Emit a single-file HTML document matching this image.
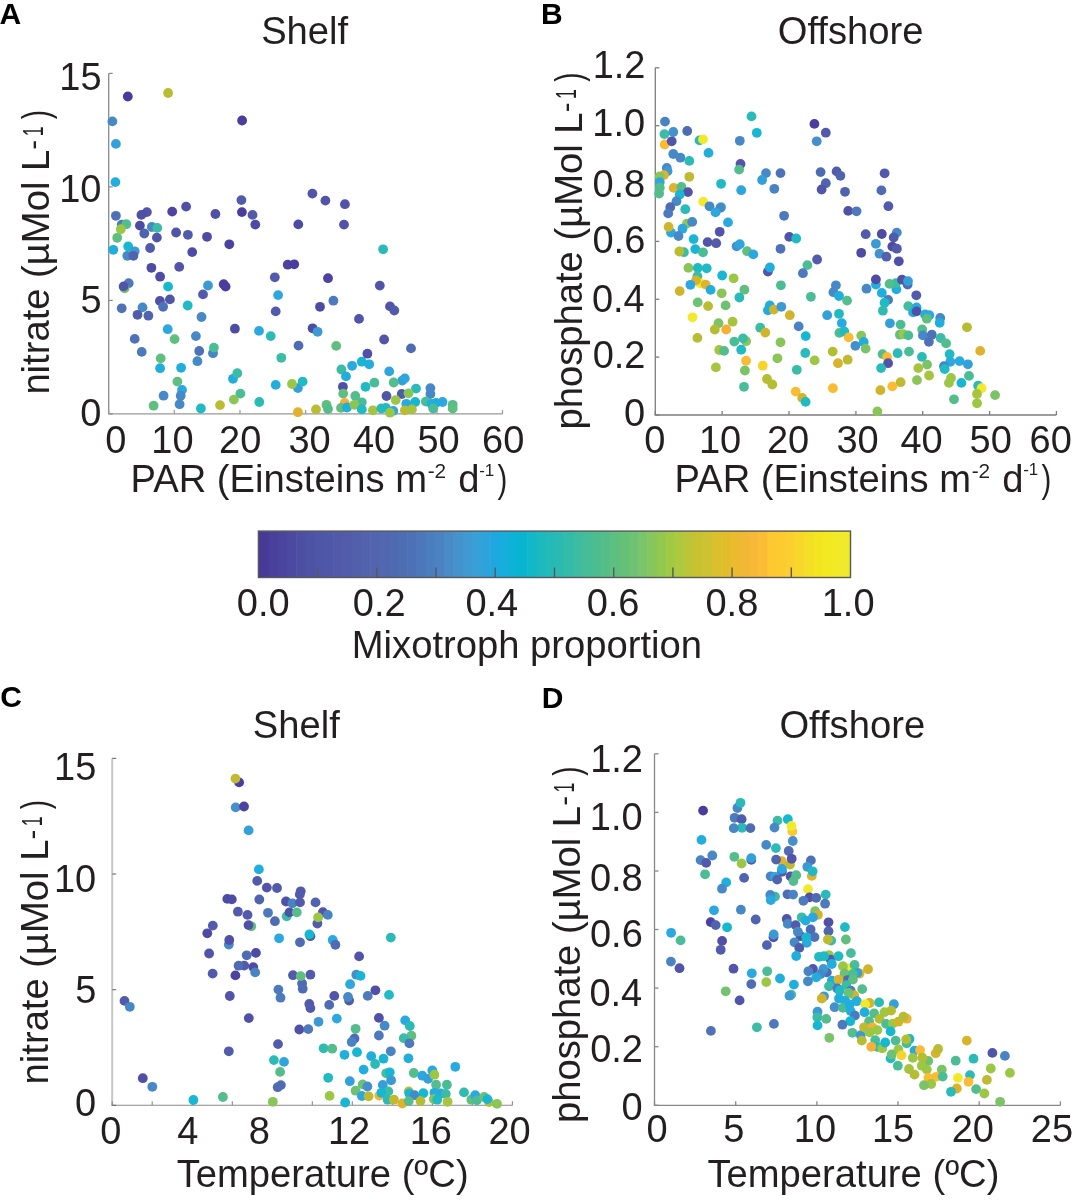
<!DOCTYPE html><html><head><meta charset="utf-8"><style>html,body{margin:0;padding:0;background:#fff;width:1078px;height:1201px;overflow:hidden}svg{display:block;will-change:transform} text{font-family:"Liberation Sans",sans-serif}</style></head><body><svg width="1078" height="1201" viewBox="0 0 1078 1201">
<rect width="1078" height="1201" fill="#fff"/>
<path d="M108.7,73.4 V413.95" fill="none" stroke="#8a8a8a" stroke-width="1.3"/>
<path d="M108.05,413.95 H502.5" fill="none" stroke="#9a9898" stroke-width="1.2"/>
<line x1="108.7" y1="413.95" x2="108.7" y2="409.95" stroke="#9a9898" stroke-width="1.2"/>
<line x1="174.3" y1="413.95" x2="174.3" y2="409.95" stroke="#9a9898" stroke-width="1.2"/>
<line x1="240.0" y1="413.95" x2="240.0" y2="409.95" stroke="#9a9898" stroke-width="1.2"/>
<line x1="305.6" y1="413.95" x2="305.6" y2="409.95" stroke="#9a9898" stroke-width="1.2"/>
<line x1="371.2" y1="413.95" x2="371.2" y2="409.95" stroke="#9a9898" stroke-width="1.2"/>
<line x1="436.9" y1="413.95" x2="436.9" y2="409.95" stroke="#9a9898" stroke-width="1.2"/>
<line x1="502.5" y1="413.95" x2="502.5" y2="409.95" stroke="#9a9898" stroke-width="1.2"/>
<line x1="108.7" y1="413.9" x2="112.7" y2="413.9" stroke="#8a8a8a" stroke-width="1.2"/>
<line x1="108.7" y1="300.4" x2="112.7" y2="300.4" stroke="#8a8a8a" stroke-width="1.2"/>
<line x1="108.7" y1="186.9" x2="112.7" y2="186.9" stroke="#8a8a8a" stroke-width="1.2"/>
<line x1="108.7" y1="73.4" x2="112.7" y2="73.4" stroke="#8a8a8a" stroke-width="1.2"/>
<path d="M655.3,67.8 V415.0" fill="none" stroke="#7e7c7c" stroke-width="1.3"/>
<path d="M654.65,415.0 H1056.4" fill="none" stroke="#7e7c7c" stroke-width="1.3"/>
<line x1="655.3" y1="415.0" x2="655.3" y2="411.0" stroke="#7e7c7c" stroke-width="1.3"/>
<line x1="722.1" y1="415.0" x2="722.1" y2="411.0" stroke="#7e7c7c" stroke-width="1.3"/>
<line x1="789.0" y1="415.0" x2="789.0" y2="411.0" stroke="#7e7c7c" stroke-width="1.3"/>
<line x1="855.9" y1="415.0" x2="855.9" y2="411.0" stroke="#7e7c7c" stroke-width="1.3"/>
<line x1="922.7" y1="415.0" x2="922.7" y2="411.0" stroke="#7e7c7c" stroke-width="1.3"/>
<line x1="989.6" y1="415.0" x2="989.6" y2="411.0" stroke="#7e7c7c" stroke-width="1.3"/>
<line x1="1056.4" y1="415.0" x2="1056.4" y2="411.0" stroke="#7e7c7c" stroke-width="1.3"/>
<line x1="655.3" y1="415.0" x2="659.3" y2="415.0" stroke="#7e7c7c" stroke-width="1.3"/>
<line x1="655.3" y1="357.1" x2="659.3" y2="357.1" stroke="#7e7c7c" stroke-width="1.3"/>
<line x1="655.3" y1="299.3" x2="659.3" y2="299.3" stroke="#7e7c7c" stroke-width="1.3"/>
<line x1="655.3" y1="241.4" x2="659.3" y2="241.4" stroke="#7e7c7c" stroke-width="1.3"/>
<line x1="655.3" y1="183.5" x2="659.3" y2="183.5" stroke="#7e7c7c" stroke-width="1.3"/>
<line x1="655.3" y1="125.7" x2="659.3" y2="125.7" stroke="#7e7c7c" stroke-width="1.3"/>
<line x1="655.3" y1="67.8" x2="659.3" y2="67.8" stroke="#7e7c7c" stroke-width="1.3"/>
<path d="M112.2,758.4 V1105.3" fill="none" stroke="#c6c6c6" stroke-width="2.0"/>
<path d="M111.2,1105.3 H512.4" fill="none" stroke="#8a8a8a" stroke-width="1.1"/>
<line x1="112.2" y1="1105.3" x2="112.2" y2="1101.3" stroke="#8a8a8a" stroke-width="1.1"/>
<line x1="152.2" y1="1105.3" x2="152.2" y2="1101.3" stroke="#8a8a8a" stroke-width="1.1"/>
<line x1="192.2" y1="1105.3" x2="192.2" y2="1101.3" stroke="#8a8a8a" stroke-width="1.1"/>
<line x1="232.3" y1="1105.3" x2="232.3" y2="1101.3" stroke="#8a8a8a" stroke-width="1.1"/>
<line x1="272.3" y1="1105.3" x2="272.3" y2="1101.3" stroke="#8a8a8a" stroke-width="1.1"/>
<line x1="312.3" y1="1105.3" x2="312.3" y2="1101.3" stroke="#8a8a8a" stroke-width="1.1"/>
<line x1="352.3" y1="1105.3" x2="352.3" y2="1101.3" stroke="#8a8a8a" stroke-width="1.1"/>
<line x1="392.3" y1="1105.3" x2="392.3" y2="1101.3" stroke="#8a8a8a" stroke-width="1.1"/>
<line x1="432.4" y1="1105.3" x2="432.4" y2="1101.3" stroke="#8a8a8a" stroke-width="1.1"/>
<line x1="472.4" y1="1105.3" x2="472.4" y2="1101.3" stroke="#8a8a8a" stroke-width="1.1"/>
<line x1="512.4" y1="1105.3" x2="512.4" y2="1101.3" stroke="#8a8a8a" stroke-width="1.1"/>
<line x1="112.2" y1="1105.3" x2="116.2" y2="1105.3" stroke="#6e6e6e" stroke-width="1.1"/>
<line x1="112.2" y1="989.7" x2="116.2" y2="989.7" stroke="#6e6e6e" stroke-width="1.1"/>
<line x1="112.2" y1="874.0" x2="116.2" y2="874.0" stroke="#6e6e6e" stroke-width="1.1"/>
<line x1="112.2" y1="758.4" x2="116.2" y2="758.4" stroke="#6e6e6e" stroke-width="1.1"/>
<path d="M654.5,753.8 V1105.3" fill="none" stroke="#888888" stroke-width="1.3"/>
<path d="M653.85,1105.3 H1060.4" fill="none" stroke="#888888" stroke-width="1.3"/>
<line x1="654.5" y1="1105.3" x2="654.5" y2="1101.3" stroke="#888888" stroke-width="1.3"/>
<line x1="735.7" y1="1105.3" x2="735.7" y2="1101.3" stroke="#888888" stroke-width="1.3"/>
<line x1="816.9" y1="1105.3" x2="816.9" y2="1101.3" stroke="#888888" stroke-width="1.3"/>
<line x1="898.0" y1="1105.3" x2="898.0" y2="1101.3" stroke="#888888" stroke-width="1.3"/>
<line x1="979.2" y1="1105.3" x2="979.2" y2="1101.3" stroke="#888888" stroke-width="1.3"/>
<line x1="1060.4" y1="1105.3" x2="1060.4" y2="1101.3" stroke="#888888" stroke-width="1.3"/>
<line x1="654.5" y1="1105.3" x2="658.5" y2="1105.3" stroke="#888888" stroke-width="1.3"/>
<line x1="654.5" y1="1046.7" x2="658.5" y2="1046.7" stroke="#888888" stroke-width="1.3"/>
<line x1="654.5" y1="988.1" x2="658.5" y2="988.1" stroke="#888888" stroke-width="1.3"/>
<line x1="654.5" y1="929.5" x2="658.5" y2="929.5" stroke="#888888" stroke-width="1.3"/>
<line x1="654.5" y1="871.0" x2="658.5" y2="871.0" stroke="#888888" stroke-width="1.3"/>
<line x1="654.5" y1="812.4" x2="658.5" y2="812.4" stroke="#888888" stroke-width="1.3"/>
<line x1="654.5" y1="753.8" x2="658.5" y2="753.8" stroke="#888888" stroke-width="1.3"/>
<rect x="258.40" y="531.1" width="10.74" height="46.4" fill="#473996"/>
<rect x="268.54" y="531.1" width="9.84" height="46.4" fill="#4a3f9b"/>
<rect x="277.78" y="531.1" width="9.84" height="46.4" fill="#4b449e"/>
<rect x="287.01" y="531.1" width="9.84" height="46.4" fill="#4b4aa0"/>
<rect x="296.25" y="531.1" width="9.84" height="46.4" fill="#4c4fa2"/>
<rect x="305.49" y="531.1" width="9.84" height="46.4" fill="#4d52a5"/>
<rect x="314.73" y="531.1" width="9.84" height="46.4" fill="#4e56a7"/>
<rect x="323.96" y="531.1" width="9.84" height="46.4" fill="#4f58a8"/>
<rect x="333.20" y="531.1" width="9.84" height="46.4" fill="#505aa9"/>
<rect x="342.44" y="531.1" width="9.84" height="46.4" fill="#515caa"/>
<rect x="351.68" y="531.1" width="9.84" height="46.4" fill="#525fab"/>
<rect x="360.91" y="531.1" width="9.84" height="46.4" fill="#5262ac"/>
<rect x="370.15" y="531.1" width="9.84" height="46.4" fill="#5264ad"/>
<rect x="379.39" y="531.1" width="9.84" height="46.4" fill="#5167af"/>
<rect x="388.62" y="531.1" width="9.84" height="46.4" fill="#4f6ab1"/>
<rect x="397.86" y="531.1" width="9.84" height="46.4" fill="#4e6eb4"/>
<rect x="407.10" y="531.1" width="9.84" height="46.4" fill="#4d71b6"/>
<rect x="416.34" y="531.1" width="9.84" height="46.4" fill="#4c77ba"/>
<rect x="425.58" y="531.1" width="9.84" height="46.4" fill="#4c7dbe"/>
<rect x="434.81" y="531.1" width="9.84" height="46.4" fill="#4b83c2"/>
<rect x="444.05" y="531.1" width="9.84" height="46.4" fill="#488bc7"/>
<rect x="453.29" y="531.1" width="9.84" height="46.4" fill="#4592cc"/>
<rect x="462.53" y="531.1" width="9.84" height="46.4" fill="#3f99d2"/>
<rect x="471.76" y="531.1" width="9.84" height="46.4" fill="#36a0d7"/>
<rect x="481.00" y="531.1" width="9.84" height="46.4" fill="#2ea3db"/>
<rect x="490.24" y="531.1" width="9.84" height="46.4" fill="#1fa8e0"/>
<rect x="499.48" y="531.1" width="9.84" height="46.4" fill="#16aedc"/>
<rect x="508.71" y="531.1" width="9.84" height="46.4" fill="#0db3d6"/>
<rect x="517.95" y="531.1" width="9.84" height="46.4" fill="#07b5d0"/>
<rect x="527.19" y="531.1" width="9.84" height="46.4" fill="#12b8c8"/>
<rect x="536.42" y="531.1" width="9.84" height="46.4" fill="#1cb9be"/>
<rect x="545.66" y="531.1" width="9.84" height="46.4" fill="#24bab7"/>
<rect x="554.90" y="531.1" width="9.84" height="46.4" fill="#2abab2"/>
<rect x="564.14" y="531.1" width="9.84" height="46.4" fill="#33bba9"/>
<rect x="573.38" y="531.1" width="9.84" height="46.4" fill="#3ebca0"/>
<rect x="582.61" y="531.1" width="9.84" height="46.4" fill="#46bd97"/>
<rect x="591.85" y="531.1" width="9.84" height="46.4" fill="#4dbd90"/>
<rect x="601.09" y="531.1" width="9.84" height="46.4" fill="#55be88"/>
<rect x="610.33" y="531.1" width="9.84" height="46.4" fill="#5dbf80"/>
<rect x="619.56" y="531.1" width="9.84" height="46.4" fill="#66c078"/>
<rect x="628.80" y="531.1" width="9.84" height="46.4" fill="#6dc273"/>
<rect x="638.04" y="531.1" width="9.84" height="46.4" fill="#7ac46a"/>
<rect x="647.28" y="531.1" width="9.84" height="46.4" fill="#86c65d"/>
<rect x="656.51" y="531.1" width="9.84" height="46.4" fill="#93c84f"/>
<rect x="665.75" y="531.1" width="9.84" height="46.4" fill="#a0ca44"/>
<rect x="674.99" y="531.1" width="9.84" height="46.4" fill="#aec93d"/>
<rect x="684.23" y="531.1" width="9.84" height="46.4" fill="#bcc438"/>
<rect x="693.46" y="531.1" width="9.84" height="46.4" fill="#c8c231"/>
<rect x="702.70" y="531.1" width="9.84" height="46.4" fill="#cfc232"/>
<rect x="711.94" y="531.1" width="9.84" height="46.4" fill="#d9c02c"/>
<rect x="721.18" y="531.1" width="9.84" height="46.4" fill="#e2bd2b"/>
<rect x="730.41" y="531.1" width="9.84" height="46.4" fill="#eaba2f"/>
<rect x="739.65" y="531.1" width="9.84" height="46.4" fill="#f1b835"/>
<rect x="748.89" y="531.1" width="9.84" height="46.4" fill="#f7b837"/>
<rect x="758.12" y="531.1" width="9.84" height="46.4" fill="#fbbc36"/>
<rect x="767.36" y="531.1" width="9.84" height="46.4" fill="#fec830"/>
<rect x="776.60" y="531.1" width="9.84" height="46.4" fill="#fdca30"/>
<rect x="785.84" y="531.1" width="9.84" height="46.4" fill="#fbd02e"/>
<rect x="795.08" y="531.1" width="9.84" height="46.4" fill="#f7d82a"/>
<rect x="804.31" y="531.1" width="9.84" height="46.4" fill="#f5df26"/>
<rect x="813.55" y="531.1" width="9.84" height="46.4" fill="#f4e521"/>
<rect x="822.79" y="531.1" width="9.84" height="46.4" fill="#f3e920"/>
<rect x="832.03" y="531.1" width="9.84" height="46.4" fill="#f2ea27"/>
<rect x="841.26" y="531.1" width="9.84" height="46.4" fill="#f1e92c"/>
<rect x="258.4" y="531.1" width="592.1" height="46.4" fill="none" stroke="#58585a" stroke-width="1.4"/>
<line x1="317.6" y1="577.5" x2="317.6" y2="567.5" stroke="#58585a" stroke-width="1.4"/>
<line x1="376.8" y1="577.5" x2="376.8" y2="567.5" stroke="#58585a" stroke-width="1.4"/>
<line x1="436.0" y1="577.5" x2="436.0" y2="567.5" stroke="#58585a" stroke-width="1.4"/>
<line x1="495.2" y1="577.5" x2="495.2" y2="567.5" stroke="#58585a" stroke-width="1.4"/>
<line x1="554.5" y1="577.5" x2="554.5" y2="567.5" stroke="#58585a" stroke-width="1.4"/>
<line x1="613.7" y1="577.5" x2="613.7" y2="567.5" stroke="#58585a" stroke-width="1.4"/>
<line x1="672.9" y1="577.5" x2="672.9" y2="567.5" stroke="#58585a" stroke-width="1.4"/>
<line x1="732.1" y1="577.5" x2="732.1" y2="567.5" stroke="#58585a" stroke-width="1.4"/>
<line x1="791.3" y1="577.5" x2="791.3" y2="567.5" stroke="#58585a" stroke-width="1.4"/>
<circle cx="127.8" cy="96.5" r="4.9" fill="#4a3a9c"/>
<circle cx="168.1" cy="93.0" r="4.9" fill="#babc32"/>
<circle cx="112.4" cy="121.4" r="4.9" fill="#4789c7"/>
<circle cx="115.9" cy="143.9" r="4.9" fill="#34a0da"/>
<circle cx="115.4" cy="182.1" r="4.9" fill="#21aedd"/>
<circle cx="242.1" cy="120.5" r="4.9" fill="#4a3d9d"/>
<circle cx="241.4" cy="200.1" r="4.9" fill="#525bab"/>
<circle cx="186.1" cy="206.6" r="4.9" fill="#5050a6"/>
<circle cx="172.2" cy="211.6" r="4.9" fill="#4c43a0"/>
<circle cx="146.9" cy="212.1" r="4.9" fill="#5154a8"/>
<circle cx="141.4" cy="214.9" r="4.9" fill="#5050a6"/>
<circle cx="115.9" cy="215.8" r="4.9" fill="#4e71b8"/>
<circle cx="215.4" cy="214.0" r="4.9" fill="#5050a6"/>
<circle cx="241.9" cy="212.1" r="4.9" fill="#4a3d9d"/>
<circle cx="252.5" cy="214.9" r="4.9" fill="#525bab"/>
<circle cx="255.3" cy="224.6" r="4.9" fill="#4e4ba4"/>
<circle cx="298.3" cy="224.4" r="4.9" fill="#4e4ba4"/>
<circle cx="139.9" cy="225.6" r="4.9" fill="#4e4ba4"/>
<circle cx="121.7" cy="224.6" r="4.9" fill="#4c7abd"/>
<circle cx="126.3" cy="224.2" r="4.9" fill="#54bd8c"/>
<circle cx="120.8" cy="229.2" r="4.9" fill="#9cc745"/>
<circle cx="151.8" cy="227.0" r="4.9" fill="#4789c7"/>
<circle cx="157.3" cy="227.9" r="4.9" fill="#3bbca6"/>
<circle cx="144.3" cy="233.5" r="4.9" fill="#5063af"/>
<circle cx="117.2" cy="237.8" r="4.9" fill="#60bf7f"/>
<circle cx="176.1" cy="232.5" r="4.9" fill="#5154a8"/>
<circle cx="187.9" cy="234.8" r="4.9" fill="#525bab"/>
<circle cx="156.9" cy="237.6" r="4.9" fill="#5154a8"/>
<circle cx="207.0" cy="236.8" r="4.9" fill="#4e4ba4"/>
<circle cx="229.3" cy="244.3" r="4.9" fill="#4c43a0"/>
<circle cx="312.4" cy="193.6" r="4.9" fill="#5154a8"/>
<circle cx="325.4" cy="200.6" r="4.9" fill="#5154a8"/>
<circle cx="344.9" cy="204.2" r="4.9" fill="#5154a8"/>
<circle cx="344.0" cy="224.6" r="4.9" fill="#5154a8"/>
<circle cx="113.3" cy="249.8" r="4.9" fill="#21aedd"/>
<circle cx="128.2" cy="246.5" r="4.9" fill="#15b8d0"/>
<circle cx="134.7" cy="251.3" r="4.9" fill="#3c99d3"/>
<circle cx="127.3" cy="255.8" r="4.9" fill="#4789c7"/>
<circle cx="133.4" cy="255.8" r="4.9" fill="#5063af"/>
<circle cx="150.1" cy="248.0" r="4.9" fill="#525bab"/>
<circle cx="192.2" cy="252.1" r="4.9" fill="#4e4ba4"/>
<circle cx="151.4" cy="267.8" r="4.9" fill="#4e4ba4"/>
<circle cx="179.2" cy="266.9" r="4.9" fill="#5154a8"/>
<circle cx="160.1" cy="276.7" r="4.9" fill="#4e4ba4"/>
<circle cx="168.1" cy="286.6" r="4.9" fill="#15b8d0"/>
<circle cx="128.7" cy="283.2" r="4.9" fill="#4c7abd"/>
<circle cx="124.5" cy="288.4" r="4.9" fill="#74c26d"/>
<circle cx="123.6" cy="286.4" r="4.9" fill="#5154a8"/>
<circle cx="208.0" cy="285.5" r="4.9" fill="#3c99d3"/>
<circle cx="223.7" cy="284.2" r="4.9" fill="#4a3d9d"/>
<circle cx="225.6" cy="286.6" r="4.9" fill="#4a3d9d"/>
<circle cx="203.0" cy="294.4" r="4.9" fill="#525bab"/>
<circle cx="159.9" cy="300.9" r="4.9" fill="#5050a6"/>
<circle cx="169.9" cy="299.4" r="4.9" fill="#5154a8"/>
<circle cx="163.1" cy="306.8" r="4.9" fill="#4e71b8"/>
<circle cx="142.5" cy="307.4" r="4.9" fill="#4789c7"/>
<circle cx="121.7" cy="308.3" r="4.9" fill="#4e71b8"/>
<circle cx="137.5" cy="314.8" r="4.9" fill="#525bab"/>
<circle cx="148.4" cy="315.7" r="4.9" fill="#5063af"/>
<circle cx="187.7" cy="305.5" r="4.9" fill="#1fbac4"/>
<circle cx="201.5" cy="317.0" r="4.9" fill="#4789c7"/>
<circle cx="287.7" cy="264.7" r="4.9" fill="#4c43a0"/>
<circle cx="294.2" cy="264.3" r="4.9" fill="#4a3d9d"/>
<circle cx="274.8" cy="277.3" r="4.9" fill="#525bab"/>
<circle cx="278.1" cy="295.1" r="4.9" fill="#2ba8df"/>
<circle cx="275.7" cy="311.4" r="4.9" fill="#525bab"/>
<circle cx="234.9" cy="328.7" r="4.9" fill="#4e4ba4"/>
<circle cx="259.0" cy="330.9" r="4.9" fill="#2ba8df"/>
<circle cx="270.7" cy="336.1" r="4.9" fill="#2abbb8"/>
<circle cx="298.5" cy="345.6" r="4.9" fill="#4e6bb4"/>
<circle cx="167.7" cy="329.2" r="4.9" fill="#2ba8df"/>
<circle cx="134.7" cy="338.9" r="4.9" fill="#4e71b8"/>
<circle cx="174.6" cy="339.1" r="4.9" fill="#60bf7f"/>
<circle cx="195.9" cy="336.1" r="4.9" fill="#4789c7"/>
<circle cx="141.7" cy="351.9" r="4.9" fill="#4c7abd"/>
<circle cx="199.2" cy="351.0" r="4.9" fill="#4e71b8"/>
<circle cx="213.0" cy="353.2" r="4.9" fill="#4983c3"/>
<circle cx="213.9" cy="347.6" r="4.9" fill="#4abd97"/>
<circle cx="160.7" cy="358.4" r="4.9" fill="#60bf7f"/>
<circle cx="197.4" cy="361.2" r="4.9" fill="#4789c7"/>
<circle cx="160.1" cy="368.2" r="4.9" fill="#21aedd"/>
<circle cx="181.1" cy="367.8" r="4.9" fill="#21aedd"/>
<circle cx="281.3" cy="357.8" r="4.9" fill="#3bbca6"/>
<circle cx="233.0" cy="378.8" r="4.9" fill="#21aedd"/>
<circle cx="237.3" cy="373.2" r="4.9" fill="#3bbca6"/>
<circle cx="177.4" cy="381.6" r="4.9" fill="#60bf7f"/>
<circle cx="182.0" cy="389.9" r="4.9" fill="#2ba8df"/>
<circle cx="180.7" cy="395.7" r="4.9" fill="#4789c7"/>
<circle cx="163.6" cy="395.7" r="4.9" fill="#4789c7"/>
<circle cx="275.7" cy="384.9" r="4.9" fill="#21aedd"/>
<circle cx="297.9" cy="388.1" r="4.9" fill="#34a0da"/>
<circle cx="292.0" cy="384.0" r="4.9" fill="#9cc745"/>
<circle cx="302.6" cy="381.6" r="4.9" fill="#1fbac4"/>
<circle cx="240.4" cy="393.6" r="4.9" fill="#4abd97"/>
<circle cx="233.9" cy="399.6" r="4.9" fill="#8ac557"/>
<circle cx="259.3" cy="402.0" r="4.9" fill="#2abbb8"/>
<circle cx="153.6" cy="405.7" r="4.9" fill="#60bf7f"/>
<circle cx="179.6" cy="404.2" r="4.9" fill="#4789c7"/>
<circle cx="200.9" cy="408.5" r="4.9" fill="#1fbac4"/>
<circle cx="220.0" cy="405.1" r="4.9" fill="#babc32"/>
<circle cx="297.9" cy="412.2" r="4.9" fill="#e0b22d"/>
<circle cx="383.1" cy="249.3" r="4.9" fill="#2abbb8"/>
<circle cx="328.0" cy="278.2" r="4.9" fill="#4c43a0"/>
<circle cx="379.8" cy="285.6" r="4.9" fill="#5154a8"/>
<circle cx="333.4" cy="300.7" r="4.9" fill="#4c7abd"/>
<circle cx="320.0" cy="306.8" r="4.9" fill="#4e4ba4"/>
<circle cx="390.0" cy="306.4" r="4.9" fill="#5154a8"/>
<circle cx="394.3" cy="310.5" r="4.9" fill="#525bab"/>
<circle cx="359.0" cy="318.9" r="4.9" fill="#5154a8"/>
<circle cx="312.6" cy="328.3" r="4.9" fill="#4e4ba4"/>
<circle cx="317.6" cy="331.8" r="4.9" fill="#3c99d3"/>
<circle cx="384.1" cy="339.5" r="4.9" fill="#5154a8"/>
<circle cx="336.2" cy="345.9" r="4.9" fill="#60bf7f"/>
<circle cx="411.0" cy="348.4" r="4.9" fill="#4e6bb4"/>
<circle cx="367.4" cy="353.7" r="4.9" fill="#5050a6"/>
<circle cx="361.8" cy="361.7" r="4.9" fill="#19b5d4"/>
<circle cx="352.1" cy="365.8" r="4.9" fill="#28a9df"/>
<circle cx="369.2" cy="364.3" r="4.9" fill="#21aedd"/>
<circle cx="341.4" cy="369.5" r="4.9" fill="#3bbca6"/>
<circle cx="389.2" cy="371.4" r="4.9" fill="#2fa5dd"/>
<circle cx="346.0" cy="376.4" r="4.9" fill="#21aedd"/>
<circle cx="402.2" cy="380.6" r="4.9" fill="#34a0da"/>
<circle cx="404.8" cy="378.4" r="4.9" fill="#2fa5dd"/>
<circle cx="374.4" cy="382.7" r="4.9" fill="#4abd97"/>
<circle cx="393.7" cy="382.5" r="4.9" fill="#54bd8c"/>
<circle cx="365.5" cy="386.8" r="4.9" fill="#1fbac4"/>
<circle cx="342.9" cy="386.8" r="4.9" fill="#5050a6"/>
<circle cx="416.0" cy="388.6" r="4.9" fill="#2abbb8"/>
<circle cx="430.4" cy="388.1" r="4.9" fill="#4789c7"/>
<circle cx="430.4" cy="394.0" r="4.9" fill="#4789c7"/>
<circle cx="343.2" cy="393.6" r="4.9" fill="#60bf7f"/>
<circle cx="355.3" cy="396.0" r="4.9" fill="#54bd8c"/>
<circle cx="386.5" cy="396.0" r="4.9" fill="#5154a8"/>
<circle cx="401.7" cy="394.0" r="4.9" fill="#525bab"/>
<circle cx="408.5" cy="393.3" r="4.9" fill="#8ac557"/>
<circle cx="395.7" cy="400.1" r="4.9" fill="#9cc745"/>
<circle cx="361.8" cy="402.3" r="4.9" fill="#4abd97"/>
<circle cx="425.8" cy="401.6" r="4.9" fill="#4abd97"/>
<circle cx="406.3" cy="403.8" r="4.9" fill="#2ba8df"/>
<circle cx="415.2" cy="402.0" r="4.9" fill="#15b8d0"/>
<circle cx="442.5" cy="402.0" r="4.9" fill="#2ba8df"/>
<circle cx="436.0" cy="402.9" r="4.9" fill="#21aedd"/>
<circle cx="431.4" cy="403.8" r="4.9" fill="#21aedd"/>
<circle cx="452.7" cy="404.8" r="4.9" fill="#54bd8c"/>
<circle cx="452.7" cy="408.5" r="4.9" fill="#60bf7f"/>
<circle cx="344.7" cy="402.9" r="4.9" fill="#f5b035"/>
<circle cx="326.5" cy="404.8" r="4.9" fill="#60bf7f"/>
<circle cx="328.0" cy="409.0" r="4.9" fill="#54bd8c"/>
<circle cx="316.0" cy="409.4" r="4.9" fill="#babc32"/>
<circle cx="341.0" cy="407.9" r="4.9" fill="#60bf7f"/>
<circle cx="346.9" cy="407.5" r="4.9" fill="#21aedd"/>
<circle cx="354.4" cy="404.8" r="4.9" fill="#8ac557"/>
<circle cx="361.8" cy="409.4" r="4.9" fill="#1fbac4"/>
<circle cx="372.9" cy="410.3" r="4.9" fill="#a8c33d"/>
<circle cx="381.3" cy="408.5" r="4.9" fill="#2abbb8"/>
<circle cx="385.9" cy="407.9" r="4.9" fill="#1fbac4"/>
<circle cx="393.3" cy="410.9" r="4.9" fill="#2ba8df"/>
<circle cx="390.0" cy="412.7" r="4.9" fill="#9cc745"/>
<circle cx="404.9" cy="410.3" r="4.9" fill="#babc32"/>
<circle cx="411.9" cy="409.4" r="4.9" fill="#a8c33d"/>
<circle cx="433.2" cy="408.5" r="4.9" fill="#4abd97"/>
<circle cx="665.0" cy="121.6" r="4.9" fill="#4983c3"/>
<circle cx="664.4" cy="134.1" r="4.9" fill="#3bbca6"/>
<circle cx="673.3" cy="132.0" r="4.9" fill="#4292cd"/>
<circle cx="687.2" cy="131.0" r="4.9" fill="#4e6bb4"/>
<circle cx="664.7" cy="144.5" r="4.9" fill="#fbbc33"/>
<circle cx="671.7" cy="141.3" r="4.9" fill="#5154a8"/>
<circle cx="699.5" cy="140.4" r="4.9" fill="#2abbb8"/>
<circle cx="703.0" cy="139.4" r="4.9" fill="#f2e92c"/>
<circle cx="751.5" cy="116.4" r="4.9" fill="#2abbb8"/>
<circle cx="756.8" cy="132.8" r="4.9" fill="#15b8d0"/>
<circle cx="739.8" cy="140.8" r="4.9" fill="#4789c7"/>
<circle cx="708.5" cy="152.9" r="4.9" fill="#21aedd"/>
<circle cx="673.3" cy="154.0" r="4.9" fill="#4789c7"/>
<circle cx="680.4" cy="157.7" r="4.9" fill="#4789c7"/>
<circle cx="689.3" cy="160.9" r="4.9" fill="#2abbb8"/>
<circle cx="740.5" cy="164.0" r="4.9" fill="#5154a8"/>
<circle cx="739.1" cy="169.6" r="4.9" fill="#54bd8c"/>
<circle cx="666.8" cy="167.9" r="4.9" fill="#4789c7"/>
<circle cx="667.5" cy="171.2" r="4.9" fill="#3c99d3"/>
<circle cx="664.0" cy="175.1" r="4.9" fill="#e0b22d"/>
<circle cx="659.8" cy="176.3" r="4.9" fill="#8ac557"/>
<circle cx="659.8" cy="182.1" r="4.9" fill="#2ba8df"/>
<circle cx="659.8" cy="187.7" r="4.9" fill="#54bd8c"/>
<circle cx="659.1" cy="193.5" r="4.9" fill="#54bd8c"/>
<circle cx="689.3" cy="176.8" r="4.9" fill="#bfba31"/>
<circle cx="766.0" cy="173.1" r="4.9" fill="#4789c7"/>
<circle cx="780.5" cy="173.1" r="4.9" fill="#4e71b8"/>
<circle cx="762.1" cy="180.0" r="4.9" fill="#34a0da"/>
<circle cx="721.1" cy="183.8" r="4.9" fill="#1fbac4"/>
<circle cx="741.2" cy="190.2" r="4.9" fill="#2fa5dd"/>
<circle cx="774.3" cy="188.8" r="4.9" fill="#4983c3"/>
<circle cx="673.7" cy="187.9" r="4.9" fill="#e0b22d"/>
<circle cx="681.4" cy="187.0" r="4.9" fill="#54bd8c"/>
<circle cx="687.9" cy="192.1" r="4.9" fill="#5154a8"/>
<circle cx="679.7" cy="194.6" r="4.9" fill="#19b5d4"/>
<circle cx="676.5" cy="201.2" r="4.9" fill="#4789c7"/>
<circle cx="670.3" cy="207.1" r="4.9" fill="#4e6bb4"/>
<circle cx="668.2" cy="213.4" r="4.9" fill="#4c7abd"/>
<circle cx="685.3" cy="209.2" r="4.9" fill="#2abbb8"/>
<circle cx="703.2" cy="201.6" r="4.9" fill="#f2e92c"/>
<circle cx="709.5" cy="206.3" r="4.9" fill="#4789c7"/>
<circle cx="721.1" cy="207.1" r="4.9" fill="#3bbca6"/>
<circle cx="720.4" cy="207.8" r="4.9" fill="#4789c7"/>
<circle cx="715.5" cy="212.4" r="4.9" fill="#2ba8df"/>
<circle cx="784.1" cy="215.8" r="4.9" fill="#4c7abd"/>
<circle cx="728.0" cy="222.4" r="4.9" fill="#2ba8df"/>
<circle cx="687.0" cy="223.6" r="4.9" fill="#8ac557"/>
<circle cx="692.2" cy="221.9" r="4.9" fill="#4789c7"/>
<circle cx="671.0" cy="232.6" r="4.9" fill="#2ba8df"/>
<circle cx="668.6" cy="226.9" r="4.9" fill="#d0b52c"/>
<circle cx="682.5" cy="228.7" r="4.9" fill="#2ba8df"/>
<circle cx="678.5" cy="236.0" r="4.9" fill="#4789c7"/>
<circle cx="719.7" cy="231.8" r="4.9" fill="#5154a8"/>
<circle cx="789.3" cy="236.9" r="4.9" fill="#5154a8"/>
<circle cx="814.4" cy="123.9" r="4.9" fill="#4a3d9d"/>
<circle cx="825.8" cy="132.7" r="4.9" fill="#525bab"/>
<circle cx="816.7" cy="141.3" r="4.9" fill="#458fcb"/>
<circle cx="820.6" cy="172.1" r="4.9" fill="#4e6bb4"/>
<circle cx="836.6" cy="171.4" r="4.9" fill="#525bab"/>
<circle cx="840.4" cy="175.8" r="4.9" fill="#5063af"/>
<circle cx="825.8" cy="183.2" r="4.9" fill="#5063af"/>
<circle cx="821.6" cy="189.5" r="4.9" fill="#5154a8"/>
<circle cx="845.0" cy="191.8" r="4.9" fill="#5063af"/>
<circle cx="884.6" cy="173.3" r="4.9" fill="#525bab"/>
<circle cx="881.4" cy="190.4" r="4.9" fill="#4e6bb4"/>
<circle cx="888.4" cy="206.2" r="4.9" fill="#525bab"/>
<circle cx="848.2" cy="210.9" r="4.9" fill="#5050a6"/>
<circle cx="856.5" cy="211.3" r="4.9" fill="#4c7abd"/>
<circle cx="865.7" cy="234.2" r="4.9" fill="#525bab"/>
<circle cx="881.8" cy="234.0" r="4.9" fill="#4e4ba4"/>
<circle cx="896.8" cy="232.6" r="4.9" fill="#4789c7"/>
<circle cx="893.7" cy="237.5" r="4.9" fill="#525bab"/>
<circle cx="796.2" cy="238.5" r="4.9" fill="#1fbac4"/>
<circle cx="693.6" cy="239.1" r="4.9" fill="#19b5d4"/>
<circle cx="707.6" cy="242.1" r="4.9" fill="#5154a8"/>
<circle cx="716.2" cy="243.2" r="4.9" fill="#525bab"/>
<circle cx="736.6" cy="246.3" r="4.9" fill="#4292cd"/>
<circle cx="739.8" cy="244.2" r="4.9" fill="#2fa5dd"/>
<circle cx="747.1" cy="251.2" r="4.9" fill="#60bf7f"/>
<circle cx="753.3" cy="254.4" r="4.9" fill="#2ba8df"/>
<circle cx="780.5" cy="248.8" r="4.9" fill="#4e71b8"/>
<circle cx="683.9" cy="252.2" r="4.9" fill="#3bbca6"/>
<circle cx="679.3" cy="251.5" r="4.9" fill="#babc32"/>
<circle cx="695.3" cy="249.1" r="4.9" fill="#19b5d4"/>
<circle cx="703.0" cy="252.3" r="4.9" fill="#4abd97"/>
<circle cx="688.4" cy="267.9" r="4.9" fill="#8ac557"/>
<circle cx="697.8" cy="267.9" r="4.9" fill="#1fbac4"/>
<circle cx="706.7" cy="268.3" r="4.9" fill="#1fbac4"/>
<circle cx="697.4" cy="276.2" r="4.9" fill="#3bbca6"/>
<circle cx="700.2" cy="283.2" r="4.9" fill="#f2e92c"/>
<circle cx="696.0" cy="280.4" r="4.9" fill="#d8b42b"/>
<circle cx="705.7" cy="284.6" r="4.9" fill="#e0b22d"/>
<circle cx="690.4" cy="284.8" r="4.9" fill="#2ba8df"/>
<circle cx="710.6" cy="289.9" r="4.9" fill="#21aedd"/>
<circle cx="679.7" cy="291.1" r="4.9" fill="#d0b52c"/>
<circle cx="722.2" cy="275.5" r="4.9" fill="#19b5d4"/>
<circle cx="733.6" cy="278.3" r="4.9" fill="#9cc745"/>
<circle cx="721.7" cy="293.3" r="4.9" fill="#8ac557"/>
<circle cx="744.4" cy="289.7" r="4.9" fill="#60bf7f"/>
<circle cx="739.4" cy="297.5" r="4.9" fill="#2abbb8"/>
<circle cx="767.9" cy="271.6" r="4.9" fill="#5154a8"/>
<circle cx="769.9" cy="267.5" r="4.9" fill="#21aedd"/>
<circle cx="780.9" cy="285.3" r="4.9" fill="#4abd97"/>
<circle cx="697.7" cy="302.4" r="4.9" fill="#6dc173"/>
<circle cx="708.1" cy="306.1" r="4.9" fill="#babc32"/>
<circle cx="725.6" cy="305.4" r="4.9" fill="#6dc173"/>
<circle cx="692.5" cy="317.3" r="4.9" fill="#f2e92c"/>
<circle cx="769.8" cy="305.4" r="4.9" fill="#21aedd"/>
<circle cx="767.9" cy="310.3" r="4.9" fill="#21aedd"/>
<circle cx="773.9" cy="309.6" r="4.9" fill="#d0b52c"/>
<circle cx="781.3" cy="306.8" r="4.9" fill="#3c99d3"/>
<circle cx="789.8" cy="315.2" r="4.9" fill="#d0b52c"/>
<circle cx="718.5" cy="323.2" r="4.9" fill="#7ac367"/>
<circle cx="732.6" cy="321.7" r="4.9" fill="#a8c33d"/>
<circle cx="714.8" cy="329.5" r="4.9" fill="#b5bd33"/>
<circle cx="726.2" cy="329.5" r="4.9" fill="#f5b035"/>
<circle cx="760.2" cy="327.7" r="4.9" fill="#3bbca6"/>
<circle cx="765.3" cy="332.6" r="4.9" fill="#d0b52c"/>
<circle cx="798.7" cy="326.4" r="4.9" fill="#4983c3"/>
<circle cx="697.4" cy="337.9" r="4.9" fill="#b5bd33"/>
<circle cx="734.3" cy="341.6" r="4.9" fill="#4abd97"/>
<circle cx="746.1" cy="341.2" r="4.9" fill="#8ac557"/>
<circle cx="743.0" cy="338.4" r="4.9" fill="#3bbca6"/>
<circle cx="780.5" cy="342.3" r="4.9" fill="#8ac557"/>
<circle cx="719.2" cy="350.0" r="4.9" fill="#a8c33d"/>
<circle cx="724.1" cy="350.9" r="4.9" fill="#54bd8c"/>
<circle cx="741.2" cy="349.7" r="4.9" fill="#1fbac4"/>
<circle cx="746.1" cy="360.7" r="4.9" fill="#fbbc33"/>
<circle cx="777.4" cy="358.3" r="4.9" fill="#8ac557"/>
<circle cx="762.8" cy="365.7" r="4.9" fill="#f8d42b"/>
<circle cx="715.9" cy="367.4" r="4.9" fill="#a8c33d"/>
<circle cx="744.9" cy="370.5" r="4.9" fill="#7ac367"/>
<circle cx="796.8" cy="369.8" r="4.9" fill="#3bbca6"/>
<circle cx="875.9" cy="243.8" r="4.9" fill="#3c99d3"/>
<circle cx="892.3" cy="246.6" r="4.9" fill="#4e4ba4"/>
<circle cx="896.9" cy="248.7" r="4.9" fill="#525bab"/>
<circle cx="861.2" cy="252.8" r="4.9" fill="#4e4ba4"/>
<circle cx="879.5" cy="253.7" r="4.9" fill="#4292cd"/>
<circle cx="886.4" cy="256.7" r="4.9" fill="#5063af"/>
<circle cx="898.8" cy="261.3" r="4.9" fill="#5050a6"/>
<circle cx="817.1" cy="259.5" r="4.9" fill="#525bab"/>
<circle cx="807.4" cy="265.1" r="4.9" fill="#4abd97"/>
<circle cx="802.9" cy="273.2" r="4.9" fill="#4c7abd"/>
<circle cx="875.9" cy="284.6" r="4.9" fill="#21aedd"/>
<circle cx="875.9" cy="279.4" r="4.9" fill="#4e4ba4"/>
<circle cx="866.5" cy="288.7" r="4.9" fill="#4789c7"/>
<circle cx="896.4" cy="289.4" r="4.9" fill="#21aedd"/>
<circle cx="895.8" cy="283.2" r="4.9" fill="#3bbca6"/>
<circle cx="889.6" cy="283.9" r="4.9" fill="#54bd8c"/>
<circle cx="907.6" cy="284.6" r="4.9" fill="#4e6bb4"/>
<circle cx="902.0" cy="279.7" r="4.9" fill="#5050a6"/>
<circle cx="908.0" cy="281.1" r="4.9" fill="#34a0da"/>
<circle cx="881.8" cy="292.9" r="4.9" fill="#21aedd"/>
<circle cx="888.1" cy="299.9" r="4.9" fill="#4c7abd"/>
<circle cx="884.6" cy="302.7" r="4.9" fill="#1fbac4"/>
<circle cx="882.9" cy="310.7" r="4.9" fill="#2fbbb2"/>
<circle cx="916.3" cy="295.3" r="4.9" fill="#525bab"/>
<circle cx="835.9" cy="285.3" r="4.9" fill="#4789c7"/>
<circle cx="833.4" cy="292.2" r="4.9" fill="#4789c7"/>
<circle cx="839.0" cy="296.0" r="4.9" fill="#21aedd"/>
<circle cx="847.1" cy="300.6" r="4.9" fill="#54bd8c"/>
<circle cx="810.9" cy="296.8" r="4.9" fill="#4abd97"/>
<circle cx="908.3" cy="306.1" r="4.9" fill="#45bc9c"/>
<circle cx="916.6" cy="307.5" r="4.9" fill="#21aedd"/>
<circle cx="913.1" cy="312.4" r="4.9" fill="#21aedd"/>
<circle cx="916.6" cy="311.4" r="4.9" fill="#5050a6"/>
<circle cx="925.0" cy="314.5" r="4.9" fill="#21aedd"/>
<circle cx="929.3" cy="315.2" r="4.9" fill="#2ba8df"/>
<circle cx="926.8" cy="318.7" r="4.9" fill="#60bf7f"/>
<circle cx="940.2" cy="318.0" r="4.9" fill="#4789c7"/>
<circle cx="939.7" cy="322.8" r="4.9" fill="#21aedd"/>
<circle cx="827.2" cy="315.2" r="4.9" fill="#34a0da"/>
<circle cx="839.0" cy="313.8" r="4.9" fill="#1fbac4"/>
<circle cx="841.8" cy="323.1" r="4.9" fill="#28a9df"/>
<circle cx="805.7" cy="336.1" r="4.9" fill="#15b8d0"/>
<circle cx="839.4" cy="332.9" r="4.9" fill="#4abd97"/>
<circle cx="844.3" cy="331.5" r="4.9" fill="#1fbac4"/>
<circle cx="848.7" cy="337.4" r="4.9" fill="#fbbc33"/>
<circle cx="861.2" cy="335.6" r="4.9" fill="#8ac557"/>
<circle cx="863.7" cy="342.0" r="4.9" fill="#21aedd"/>
<circle cx="855.4" cy="345.8" r="4.9" fill="#458fcb"/>
<circle cx="865.6" cy="348.6" r="4.9" fill="#7ac367"/>
<circle cx="889.9" cy="323.3" r="4.9" fill="#34a0da"/>
<circle cx="900.6" cy="324.6" r="4.9" fill="#4abd97"/>
<circle cx="899.9" cy="334.7" r="4.9" fill="#60bf7f"/>
<circle cx="903.4" cy="334.2" r="4.9" fill="#9cc745"/>
<circle cx="908.3" cy="335.4" r="4.9" fill="#4abd97"/>
<circle cx="922.2" cy="329.5" r="4.9" fill="#54bd8c"/>
<circle cx="922.9" cy="335.4" r="4.9" fill="#4789c7"/>
<circle cx="928.9" cy="341.8" r="4.9" fill="#4e71b8"/>
<circle cx="931.8" cy="334.7" r="4.9" fill="#4e71b8"/>
<circle cx="940.7" cy="338.0" r="4.9" fill="#3bbca6"/>
<circle cx="805.3" cy="353.0" r="4.9" fill="#2abbb8"/>
<circle cx="814.6" cy="360.4" r="4.9" fill="#9cc745"/>
<circle cx="832.7" cy="351.6" r="4.9" fill="#b5bd33"/>
<circle cx="838.0" cy="363.2" r="4.9" fill="#d8b42b"/>
<circle cx="847.7" cy="359.7" r="4.9" fill="#bfba31"/>
<circle cx="882.5" cy="354.1" r="4.9" fill="#54bd8c"/>
<circle cx="887.1" cy="356.9" r="4.9" fill="#fbbc33"/>
<circle cx="888.1" cy="363.2" r="4.9" fill="#5154a8"/>
<circle cx="897.6" cy="353.2" r="4.9" fill="#2abbb8"/>
<circle cx="909.0" cy="351.6" r="4.9" fill="#4abd97"/>
<circle cx="921.9" cy="356.9" r="4.9" fill="#2abbb8"/>
<circle cx="927.1" cy="364.6" r="4.9" fill="#7ac367"/>
<circle cx="918.3" cy="368.1" r="4.9" fill="#a8c33d"/>
<circle cx="881.1" cy="368.1" r="4.9" fill="#2abbb8"/>
<circle cx="967.0" cy="327.3" r="4.9" fill="#b5bd33"/>
<circle cx="946.1" cy="343.4" r="4.9" fill="#54bd8c"/>
<circle cx="980.2" cy="350.9" r="4.9" fill="#e0b22d"/>
<circle cx="949.6" cy="354.1" r="4.9" fill="#1fbac4"/>
<circle cx="950.3" cy="361.8" r="4.9" fill="#2ba8df"/>
<circle cx="959.6" cy="361.1" r="4.9" fill="#28a9df"/>
<circle cx="967.9" cy="364.3" r="4.9" fill="#34a0da"/>
<circle cx="944.0" cy="366.2" r="4.9" fill="#4983c3"/>
<circle cx="744.0" cy="386.8" r="4.9" fill="#4abd97"/>
<circle cx="767.0" cy="379.0" r="4.9" fill="#b5bd33"/>
<circle cx="772.3" cy="384.5" r="4.9" fill="#b5bd33"/>
<circle cx="795.7" cy="391.6" r="4.9" fill="#fbbc33"/>
<circle cx="929.1" cy="375.5" r="4.9" fill="#a8c33d"/>
<circle cx="917.0" cy="380.1" r="4.9" fill="#8ac557"/>
<circle cx="900.6" cy="382.2" r="4.9" fill="#bfba31"/>
<circle cx="892.3" cy="386.4" r="4.9" fill="#fbbc33"/>
<circle cx="880.4" cy="390.2" r="4.9" fill="#d0b52c"/>
<circle cx="877.4" cy="411.4" r="4.9" fill="#8ac557"/>
<circle cx="832.9" cy="388.2" r="4.9" fill="#fbbc33"/>
<circle cx="802.2" cy="397.9" r="4.9" fill="#d0b52c"/>
<circle cx="805.6" cy="401.9" r="4.9" fill="#1fbac4"/>
<circle cx="944.7" cy="369.0" r="4.9" fill="#1fbac4"/>
<circle cx="951.0" cy="378.0" r="4.9" fill="#9cc745"/>
<circle cx="948.9" cy="382.9" r="4.9" fill="#9cc745"/>
<circle cx="961.4" cy="382.9" r="4.9" fill="#19b5d4"/>
<circle cx="969.0" cy="375.9" r="4.9" fill="#4abd97"/>
<circle cx="978.1" cy="385.7" r="4.9" fill="#2abbb8"/>
<circle cx="981.6" cy="388.2" r="4.9" fill="#f2e92c"/>
<circle cx="977.0" cy="394.0" r="4.9" fill="#a8c33d"/>
<circle cx="977.0" cy="403.3" r="4.9" fill="#9cc745"/>
<circle cx="995.1" cy="395.1" r="4.9" fill="#7ac367"/>
<circle cx="954.0" cy="399.3" r="4.9" fill="#54bd8c"/>
<circle cx="239.1" cy="782.4" r="4.9" fill="#4a3d9d"/>
<circle cx="235.4" cy="778.6" r="4.9" fill="#bfba31"/>
<circle cx="235.7" cy="807.4" r="4.9" fill="#458fcb"/>
<circle cx="244.0" cy="806.5" r="4.9" fill="#4c43a0"/>
<circle cx="248.6" cy="830.4" r="4.9" fill="#34a0da"/>
<circle cx="258.9" cy="869.4" r="4.9" fill="#21aedd"/>
<circle cx="257.2" cy="880.9" r="4.9" fill="#525bab"/>
<circle cx="266.8" cy="887.6" r="4.9" fill="#5154a8"/>
<circle cx="277.0" cy="888.0" r="4.9" fill="#525bab"/>
<circle cx="300.7" cy="891.3" r="4.9" fill="#525bab"/>
<circle cx="299.8" cy="894.4" r="4.9" fill="#525bab"/>
<circle cx="227.3" cy="898.9" r="4.9" fill="#4e4ba4"/>
<circle cx="231.8" cy="899.4" r="4.9" fill="#4e4ba4"/>
<circle cx="259.3" cy="899.5" r="4.9" fill="#5063af"/>
<circle cx="286.0" cy="901.5" r="4.9" fill="#5050a6"/>
<circle cx="292.4" cy="903.3" r="4.9" fill="#4983c3"/>
<circle cx="300.0" cy="902.4" r="4.9" fill="#525bab"/>
<circle cx="315.5" cy="902.4" r="4.9" fill="#5063af"/>
<circle cx="247.5" cy="914.9" r="4.9" fill="#525bab"/>
<circle cx="251.3" cy="926.3" r="4.9" fill="#60bf7f"/>
<circle cx="248.5" cy="925.1" r="4.9" fill="#5050a6"/>
<circle cx="268.0" cy="912.8" r="4.9" fill="#4c7abd"/>
<circle cx="274.9" cy="921.2" r="4.9" fill="#4e6bb4"/>
<circle cx="286.7" cy="916.3" r="4.9" fill="#3bbca6"/>
<circle cx="289.5" cy="912.4" r="4.9" fill="#5050a6"/>
<circle cx="296.8" cy="912.4" r="4.9" fill="#54bd8c"/>
<circle cx="322.9" cy="912.1" r="4.9" fill="#5154a8"/>
<circle cx="327.8" cy="914.9" r="4.9" fill="#4983c3"/>
<circle cx="317.4" cy="923.5" r="4.9" fill="#525bab"/>
<circle cx="318.1" cy="917.4" r="4.9" fill="#9cc745"/>
<circle cx="279.1" cy="938.3" r="4.9" fill="#2ba8df"/>
<circle cx="300.0" cy="942.3" r="4.9" fill="#4e6bb4"/>
<circle cx="310.4" cy="936.2" r="4.9" fill="#525bab"/>
<circle cx="309.4" cy="934.4" r="4.9" fill="#15b8d0"/>
<circle cx="332.7" cy="940.0" r="4.9" fill="#2ba8df"/>
<circle cx="335.4" cy="944.8" r="4.9" fill="#4e6bb4"/>
<circle cx="390.8" cy="937.6" r="4.9" fill="#2abbb8"/>
<circle cx="359.1" cy="956.4" r="4.9" fill="#5154a8"/>
<circle cx="255.9" cy="952.9" r="4.9" fill="#4e4ba4"/>
<circle cx="246.7" cy="955.3" r="4.9" fill="#4e6bb4"/>
<circle cx="244.2" cy="965.6" r="4.9" fill="#525bab"/>
<circle cx="253.3" cy="967.1" r="4.9" fill="#4e4ba4"/>
<circle cx="255.2" cy="972.4" r="4.9" fill="#4983c3"/>
<circle cx="293.0" cy="975.2" r="4.9" fill="#525bab"/>
<circle cx="310.4" cy="974.7" r="4.9" fill="#525bab"/>
<circle cx="302.1" cy="983.5" r="4.9" fill="#4e6bb4"/>
<circle cx="302.7" cy="988.7" r="4.9" fill="#4e6bb4"/>
<circle cx="300.7" cy="976.1" r="4.9" fill="#60bf7f"/>
<circle cx="356.3" cy="974.7" r="4.9" fill="#458fcb"/>
<circle cx="360.5" cy="975.9" r="4.9" fill="#19b5d4"/>
<circle cx="350.1" cy="984.2" r="4.9" fill="#2ba8df"/>
<circle cx="278.4" cy="989.6" r="4.9" fill="#4c7abd"/>
<circle cx="280.5" cy="997.7" r="4.9" fill="#4c7abd"/>
<circle cx="334.3" cy="995.9" r="4.9" fill="#5154a8"/>
<circle cx="349.1" cy="1000.5" r="4.9" fill="#525bab"/>
<circle cx="348.0" cy="997.0" r="4.9" fill="#4789c7"/>
<circle cx="367.7" cy="995.9" r="4.9" fill="#4c7abd"/>
<circle cx="375.4" cy="990.3" r="4.9" fill="#5050a6"/>
<circle cx="389.0" cy="994.9" r="4.9" fill="#1fbac4"/>
<circle cx="309.3" cy="1004.0" r="4.9" fill="#525bab"/>
<circle cx="310.4" cy="1008.1" r="4.9" fill="#525bab"/>
<circle cx="329.2" cy="1004.9" r="4.9" fill="#4e6bb4"/>
<circle cx="248.8" cy="1018.1" r="4.9" fill="#5050a6"/>
<circle cx="336.8" cy="1018.6" r="4.9" fill="#2ba8df"/>
<circle cx="378.9" cy="1017.9" r="4.9" fill="#5050a6"/>
<circle cx="237.9" cy="911.7" r="4.9" fill="#525bab"/>
<circle cx="212.8" cy="925.6" r="4.9" fill="#525bab"/>
<circle cx="207.3" cy="933.3" r="4.9" fill="#4e4ba4"/>
<circle cx="228.8" cy="944.6" r="4.9" fill="#4789c7"/>
<circle cx="229.3" cy="940.0" r="4.9" fill="#5050a6"/>
<circle cx="209.1" cy="953.5" r="4.9" fill="#5154a8"/>
<circle cx="238.6" cy="965.7" r="4.9" fill="#4e6bb4"/>
<circle cx="212.6" cy="973.6" r="4.9" fill="#525bab"/>
<circle cx="235.4" cy="975.4" r="4.9" fill="#4c43a0"/>
<circle cx="229.8" cy="996.0" r="4.9" fill="#5154a8"/>
<circle cx="124.5" cy="1000.9" r="4.9" fill="#525bab"/>
<circle cx="129.8" cy="1006.8" r="4.9" fill="#4789c7"/>
<circle cx="228.8" cy="1051.3" r="4.9" fill="#525bab"/>
<circle cx="142.8" cy="1078.2" r="4.9" fill="#5050a6"/>
<circle cx="152.3" cy="1086.8" r="4.9" fill="#4789c7"/>
<circle cx="193.4" cy="1100.0" r="4.9" fill="#15b8d0"/>
<circle cx="222.9" cy="1097.0" r="4.9" fill="#54bd8c"/>
<circle cx="318.5" cy="1021.8" r="4.9" fill="#3c99d3"/>
<circle cx="384.6" cy="1025.7" r="4.9" fill="#4789c7"/>
<circle cx="299.3" cy="1029.5" r="4.9" fill="#5050a6"/>
<circle cx="308.3" cy="1029.1" r="4.9" fill="#4c7abd"/>
<circle cx="278.0" cy="1044.1" r="4.9" fill="#525bab"/>
<circle cx="355.6" cy="1028.8" r="4.9" fill="#54bd8c"/>
<circle cx="354.5" cy="1038.5" r="4.9" fill="#4e6bb4"/>
<circle cx="351.7" cy="1042.0" r="4.9" fill="#4983c3"/>
<circle cx="378.9" cy="1035.5" r="4.9" fill="#4c7abd"/>
<circle cx="390.8" cy="1051.3" r="4.9" fill="#4983c3"/>
<circle cx="323.6" cy="1048.3" r="4.9" fill="#2fbbb2"/>
<circle cx="332.2" cy="1048.7" r="4.9" fill="#54bd8c"/>
<circle cx="344.5" cy="1054.8" r="4.9" fill="#21aedd"/>
<circle cx="357.0" cy="1052.2" r="4.9" fill="#19b5d4"/>
<circle cx="371.2" cy="1056.2" r="4.9" fill="#21aedd"/>
<circle cx="383.5" cy="1058.7" r="4.9" fill="#19b5d4"/>
<circle cx="375.1" cy="1064.0" r="4.9" fill="#2abbb8"/>
<circle cx="273.9" cy="1060.1" r="4.9" fill="#2abbb8"/>
<circle cx="284.0" cy="1061.9" r="4.9" fill="#2fa5dd"/>
<circle cx="280.1" cy="1071.9" r="4.9" fill="#54bd8c"/>
<circle cx="363.6" cy="1069.6" r="4.9" fill="#21aedd"/>
<circle cx="386.2" cy="1073.3" r="4.9" fill="#4abd97"/>
<circle cx="389.7" cy="1072.3" r="4.9" fill="#15b8d0"/>
<circle cx="328.2" cy="1077.8" r="4.9" fill="#1fbac4"/>
<circle cx="349.8" cy="1081.2" r="4.9" fill="#34a0da"/>
<circle cx="391.1" cy="1080.3" r="4.9" fill="#3c99d3"/>
<circle cx="280.9" cy="1085.1" r="4.9" fill="#4e6bb4"/>
<circle cx="277.7" cy="1087.2" r="4.9" fill="#4e6bb4"/>
<circle cx="362.6" cy="1084.4" r="4.9" fill="#6dc173"/>
<circle cx="367.4" cy="1086.5" r="4.9" fill="#458fcb"/>
<circle cx="382.8" cy="1084.9" r="4.9" fill="#34a0da"/>
<circle cx="355.6" cy="1090.7" r="4.9" fill="#6dc173"/>
<circle cx="388.3" cy="1091.4" r="4.9" fill="#3bbca6"/>
<circle cx="379.3" cy="1095.6" r="4.9" fill="#f5b035"/>
<circle cx="381.4" cy="1092.8" r="4.9" fill="#15b8d0"/>
<circle cx="361.9" cy="1096.0" r="4.9" fill="#2ba8df"/>
<circle cx="368.6" cy="1096.3" r="4.9" fill="#bfba31"/>
<circle cx="387.6" cy="1099.7" r="4.9" fill="#2abbb8"/>
<circle cx="393.9" cy="1099.7" r="4.9" fill="#bfba31"/>
<circle cx="329.6" cy="1095.9" r="4.9" fill="#9cc745"/>
<circle cx="345.2" cy="1102.5" r="4.9" fill="#19b5d4"/>
<circle cx="272.8" cy="1101.8" r="4.9" fill="#8ac557"/>
<circle cx="405.2" cy="1020.4" r="4.9" fill="#2ba8df"/>
<circle cx="409.8" cy="1026.0" r="4.9" fill="#2abbb8"/>
<circle cx="411.4" cy="1035.7" r="4.9" fill="#60bf7f"/>
<circle cx="403.8" cy="1038.2" r="4.9" fill="#3bbca6"/>
<circle cx="409.4" cy="1043.4" r="4.9" fill="#4c7abd"/>
<circle cx="408.4" cy="1058.3" r="4.9" fill="#21aedd"/>
<circle cx="402.4" cy="1103.5" r="4.9" fill="#e0b22d"/>
<circle cx="413.8" cy="1073.0" r="4.9" fill="#54bd8c"/>
<circle cx="422.3" cy="1075.7" r="4.9" fill="#2ba8df"/>
<circle cx="428.1" cy="1078.9" r="4.9" fill="#34a0da"/>
<circle cx="432.3" cy="1070.5" r="4.9" fill="#2ba8df"/>
<circle cx="434.4" cy="1074.7" r="4.9" fill="#9cc745"/>
<circle cx="436.1" cy="1084.7" r="4.9" fill="#54bd8c"/>
<circle cx="446.9" cy="1084.7" r="4.9" fill="#4abd97"/>
<circle cx="455.3" cy="1066.8" r="4.9" fill="#28a9df"/>
<circle cx="408.7" cy="1091.4" r="4.9" fill="#a8c33d"/>
<circle cx="409.4" cy="1093.5" r="4.9" fill="#19b5d4"/>
<circle cx="414.5" cy="1095.2" r="4.9" fill="#4789c7"/>
<circle cx="408.7" cy="1101.1" r="4.9" fill="#54bd8c"/>
<circle cx="423.3" cy="1093.2" r="4.9" fill="#15b8d0"/>
<circle cx="420.5" cy="1101.1" r="4.9" fill="#b5bd33"/>
<circle cx="434.4" cy="1092.8" r="4.9" fill="#21aedd"/>
<circle cx="440.7" cy="1093.5" r="4.9" fill="#2ba8df"/>
<circle cx="445.8" cy="1093.9" r="4.9" fill="#3bbca6"/>
<circle cx="433.7" cy="1099.1" r="4.9" fill="#8ac557"/>
<circle cx="437.2" cy="1099.7" r="4.9" fill="#1fbac4"/>
<circle cx="447.6" cy="1101.8" r="4.9" fill="#a8c33d"/>
<circle cx="464.0" cy="1092.4" r="4.9" fill="#2fbbb2"/>
<circle cx="471.3" cy="1099.7" r="4.9" fill="#60bf7f"/>
<circle cx="475.2" cy="1095.2" r="4.9" fill="#2ba8df"/>
<circle cx="476.8" cy="1100.4" r="4.9" fill="#4abd97"/>
<circle cx="484.1" cy="1097.0" r="4.9" fill="#6dc173"/>
<circle cx="489.1" cy="1102.1" r="4.9" fill="#a8c33d"/>
<circle cx="487.3" cy="1099.1" r="4.9" fill="#19b5d4"/>
<circle cx="497.0" cy="1103.9" r="4.9" fill="#8ac557"/>
<circle cx="703.1" cy="810.6" r="4.9" fill="#4a3d9d"/>
<circle cx="737.4" cy="808.0" r="4.9" fill="#4789c7"/>
<circle cx="740.5" cy="802.8" r="4.9" fill="#2abbb8"/>
<circle cx="734.6" cy="817.8" r="4.9" fill="#4c7abd"/>
<circle cx="741.6" cy="819.2" r="4.9" fill="#525bab"/>
<circle cx="742.1" cy="827.8" r="4.9" fill="#2abbb8"/>
<circle cx="733.8" cy="828.2" r="4.9" fill="#4789c7"/>
<circle cx="750.4" cy="828.1" r="4.9" fill="#4e6bb4"/>
<circle cx="701.5" cy="839.9" r="4.9" fill="#21aedd"/>
<circle cx="766.2" cy="844.9" r="4.9" fill="#4789c7"/>
<circle cx="712.3" cy="855.5" r="4.9" fill="#4789c7"/>
<circle cx="700.6" cy="860.1" r="4.9" fill="#4983c3"/>
<circle cx="706.2" cy="862.9" r="4.9" fill="#525bab"/>
<circle cx="734.3" cy="856.8" r="4.9" fill="#54bd8c"/>
<circle cx="751.3" cy="859.9" r="4.9" fill="#525bab"/>
<circle cx="751.3" cy="858.1" r="4.9" fill="#34a0da"/>
<circle cx="741.6" cy="863.5" r="4.9" fill="#9cc745"/>
<circle cx="705.1" cy="874.3" r="4.9" fill="#4abd97"/>
<circle cx="744.1" cy="877.9" r="4.9" fill="#5063af"/>
<circle cx="726.2" cy="882.4" r="4.9" fill="#21aedd"/>
<circle cx="722.0" cy="888.7" r="4.9" fill="#4789c7"/>
<circle cx="770.7" cy="876.3" r="4.9" fill="#4983c3"/>
<circle cx="777.5" cy="820.6" r="4.9" fill="#3bbca6"/>
<circle cx="774.5" cy="827.6" r="4.9" fill="#4789c7"/>
<circle cx="787.8" cy="819.2" r="4.9" fill="#15b8d0"/>
<circle cx="792.3" cy="831.4" r="4.9" fill="#fac82f"/>
<circle cx="791.5" cy="826.0" r="4.9" fill="#f2e92c"/>
<circle cx="792.8" cy="841.0" r="4.9" fill="#458fcb"/>
<circle cx="775.9" cy="848.1" r="4.9" fill="#2abbb8"/>
<circle cx="788.7" cy="851.0" r="4.9" fill="#4e6bb4"/>
<circle cx="781.7" cy="861.2" r="4.9" fill="#e0b22d"/>
<circle cx="776.1" cy="859.6" r="4.9" fill="#5063af"/>
<circle cx="790.0" cy="864.6" r="4.9" fill="#bfba31"/>
<circle cx="791.7" cy="858.8" r="4.9" fill="#5154a8"/>
<circle cx="781.9" cy="871.8" r="4.9" fill="#525bab"/>
<circle cx="781.9" cy="869.0" r="4.9" fill="#2ba8df"/>
<circle cx="810.9" cy="860.4" r="4.9" fill="#4e71b8"/>
<circle cx="807.3" cy="866.8" r="4.9" fill="#3c99d3"/>
<circle cx="811.8" cy="875.9" r="4.9" fill="#e0b22d"/>
<circle cx="812.6" cy="871.3" r="4.9" fill="#1fbac4"/>
<circle cx="775.0" cy="876.8" r="4.9" fill="#2fa5dd"/>
<circle cx="777.2" cy="879.6" r="4.9" fill="#5063af"/>
<circle cx="790.6" cy="876.3" r="4.9" fill="#5154a8"/>
<circle cx="796.2" cy="875.2" r="4.9" fill="#54bd8c"/>
<circle cx="793.4" cy="881.1" r="4.9" fill="#54bd8c"/>
<circle cx="807.9" cy="889.1" r="4.9" fill="#f2e92c"/>
<circle cx="775.0" cy="896.6" r="4.9" fill="#3bbca6"/>
<circle cx="770.3" cy="894.9" r="4.9" fill="#4789c7"/>
<circle cx="787.5" cy="894.3" r="4.9" fill="#4e6bb4"/>
<circle cx="793.1" cy="894.6" r="4.9" fill="#4983c3"/>
<circle cx="825.7" cy="894.6" r="4.9" fill="#2abbb8"/>
<circle cx="809.5" cy="897.4" r="4.9" fill="#5050a6"/>
<circle cx="816.2" cy="897.8" r="4.9" fill="#4e6bb4"/>
<circle cx="770.8" cy="900.0" r="4.9" fill="#2ba8df"/>
<circle cx="714.0" cy="910.3" r="4.9" fill="#2ba8df"/>
<circle cx="740.9" cy="909.7" r="4.9" fill="#4789c7"/>
<circle cx="755.7" cy="919.5" r="4.9" fill="#5063af"/>
<circle cx="710.7" cy="922.1" r="4.9" fill="#4c43a0"/>
<circle cx="715.7" cy="925.1" r="4.9" fill="#5063af"/>
<circle cx="727.1" cy="927.3" r="4.9" fill="#15b8d0"/>
<circle cx="671.1" cy="932.8" r="4.9" fill="#2ba8df"/>
<circle cx="680.6" cy="940.4" r="4.9" fill="#4abd97"/>
<circle cx="722.1" cy="940.9" r="4.9" fill="#5050a6"/>
<circle cx="720.7" cy="949.8" r="4.9" fill="#525bab"/>
<circle cx="773.5" cy="937.3" r="4.9" fill="#5154a8"/>
<circle cx="773.7" cy="934.5" r="4.9" fill="#3c99d3"/>
<circle cx="766.9" cy="945.1" r="4.9" fill="#5063af"/>
<circle cx="670.9" cy="961.6" r="4.9" fill="#4983c3"/>
<circle cx="679.5" cy="968.2" r="4.9" fill="#5154a8"/>
<circle cx="733.5" cy="968.7" r="4.9" fill="#5154a8"/>
<circle cx="751.8" cy="973.3" r="4.9" fill="#28a9df"/>
<circle cx="767.2" cy="971.3" r="4.9" fill="#4abd97"/>
<circle cx="751.3" cy="984.1" r="4.9" fill="#4e6bb4"/>
<circle cx="766.3" cy="982.1" r="4.9" fill="#9cc745"/>
<circle cx="725.7" cy="991.3" r="4.9" fill="#74c26d"/>
<circle cx="739.6" cy="1000.4" r="4.9" fill="#5154a8"/>
<circle cx="803.4" cy="900.8" r="4.9" fill="#4c7abd"/>
<circle cx="825.1" cy="903.7" r="4.9" fill="#4c7abd"/>
<circle cx="815.1" cy="911.1" r="4.9" fill="#7ac367"/>
<circle cx="817.9" cy="914.8" r="4.9" fill="#d0b52c"/>
<circle cx="801.7" cy="917.3" r="4.9" fill="#3bbca6"/>
<circle cx="812.9" cy="917.3" r="4.9" fill="#2ba8df"/>
<circle cx="805.6" cy="920.6" r="4.9" fill="#21aedd"/>
<circle cx="786.7" cy="918.9" r="4.9" fill="#5154a8"/>
<circle cx="787.8" cy="923.9" r="4.9" fill="#4789c7"/>
<circle cx="795.6" cy="925.1" r="4.9" fill="#525bab"/>
<circle cx="800.6" cy="936.2" r="4.9" fill="#5050a6"/>
<circle cx="797.8" cy="931.7" r="4.9" fill="#4789c7"/>
<circle cx="810.6" cy="929.5" r="4.9" fill="#4e6bb4"/>
<circle cx="814.5" cy="937.1" r="4.9" fill="#4e71b8"/>
<circle cx="806.7" cy="942.9" r="4.9" fill="#2ba8df"/>
<circle cx="806.2" cy="937.3" r="4.9" fill="#19b5d4"/>
<circle cx="794.5" cy="942.3" r="4.9" fill="#4789c7"/>
<circle cx="799.3" cy="947.9" r="4.9" fill="#525bab"/>
<circle cx="828.5" cy="922.3" r="4.9" fill="#5050a6"/>
<circle cx="828.5" cy="931.2" r="4.9" fill="#5063af"/>
<circle cx="831.2" cy="940.6" r="4.9" fill="#3bbca6"/>
<circle cx="827.9" cy="939.5" r="4.9" fill="#babc32"/>
<circle cx="844.9" cy="927.1" r="4.9" fill="#1fbac4"/>
<circle cx="845.9" cy="939.5" r="4.9" fill="#60bf7f"/>
<circle cx="796.2" cy="956.0" r="4.9" fill="#21aedd"/>
<circle cx="829.0" cy="955.1" r="4.9" fill="#9cc745"/>
<circle cx="830.7" cy="959.6" r="4.9" fill="#525bab"/>
<circle cx="819.0" cy="956.8" r="4.9" fill="#1fbac4"/>
<circle cx="824.0" cy="956.2" r="4.9" fill="#1fbac4"/>
<circle cx="838.5" cy="956.2" r="4.9" fill="#1fbac4"/>
<circle cx="850.9" cy="953.1" r="4.9" fill="#45bc9c"/>
<circle cx="831.8" cy="964.0" r="4.9" fill="#21aedd"/>
<circle cx="849.0" cy="968.5" r="4.9" fill="#f2e92c"/>
<circle cx="842.9" cy="966.2" r="4.9" fill="#9cc745"/>
<circle cx="854.6" cy="964.9" r="4.9" fill="#4abd97"/>
<circle cx="868.0" cy="969.2" r="4.9" fill="#d0b52c"/>
<circle cx="859.6" cy="973.5" r="4.9" fill="#e0b22d"/>
<circle cx="857.4" cy="972.9" r="4.9" fill="#34a0da"/>
<circle cx="844.6" cy="973.5" r="4.9" fill="#6dc173"/>
<circle cx="852.9" cy="974.0" r="4.9" fill="#4abd97"/>
<circle cx="847.4" cy="980.2" r="4.9" fill="#4e6bb4"/>
<circle cx="852.9" cy="979.6" r="4.9" fill="#60bf7f"/>
<circle cx="812.9" cy="969.0" r="4.9" fill="#5154a8"/>
<circle cx="808.4" cy="971.3" r="4.9" fill="#4983c3"/>
<circle cx="826.8" cy="972.4" r="4.9" fill="#4e6bb4"/>
<circle cx="823.4" cy="969.0" r="4.9" fill="#3c99d3"/>
<circle cx="820.7" cy="974.0" r="4.9" fill="#4789c7"/>
<circle cx="816.2" cy="977.4" r="4.9" fill="#21aedd"/>
<circle cx="807.9" cy="981.3" r="4.9" fill="#4789c7"/>
<circle cx="780.0" cy="978.5" r="4.9" fill="#21aedd"/>
<circle cx="793.9" cy="984.6" r="4.9" fill="#21aedd"/>
<circle cx="791.2" cy="994.6" r="4.9" fill="#3bbca6"/>
<circle cx="789.5" cy="995.7" r="4.9" fill="#3c99d3"/>
<circle cx="824.0" cy="996.3" r="4.9" fill="#3c99d3"/>
<circle cx="821.8" cy="998.5" r="4.9" fill="#d0b52c"/>
<circle cx="831.8" cy="980.7" r="4.9" fill="#21aedd"/>
<circle cx="838.5" cy="979.6" r="4.9" fill="#d8b42b"/>
<circle cx="829.0" cy="986.3" r="4.9" fill="#3bbca6"/>
<circle cx="846.3" cy="985.2" r="4.9" fill="#3bbca6"/>
<circle cx="837.4" cy="988.5" r="4.9" fill="#4c7abd"/>
<circle cx="839.6" cy="990.7" r="4.9" fill="#1fbac4"/>
<circle cx="862.2" cy="989.1" r="4.9" fill="#54bd8c"/>
<circle cx="850.7" cy="990.7" r="4.9" fill="#4c7abd"/>
<circle cx="854.1" cy="995.2" r="4.9" fill="#d0b52c"/>
<circle cx="848.5" cy="993.0" r="4.9" fill="#6dc173"/>
<circle cx="839.0" cy="998.5" r="4.9" fill="#21aedd"/>
<circle cx="845.1" cy="1000.8" r="4.9" fill="#21aedd"/>
<circle cx="856.8" cy="1001.2" r="4.9" fill="#21aedd"/>
<circle cx="869.6" cy="1003.0" r="4.9" fill="#d0b52c"/>
<circle cx="865.2" cy="1004.1" r="4.9" fill="#f2e92c"/>
<circle cx="879.1" cy="1002.4" r="4.9" fill="#2abbb8"/>
<circle cx="834.6" cy="1007.2" r="4.9" fill="#458fcb"/>
<circle cx="842.9" cy="1007.8" r="4.9" fill="#4abd97"/>
<circle cx="849.6" cy="1004.5" r="4.9" fill="#21aedd"/>
<circle cx="864.6" cy="1012.2" r="4.9" fill="#21aedd"/>
<circle cx="850.7" cy="1011.1" r="4.9" fill="#21aedd"/>
<circle cx="854.9" cy="1015.6" r="4.9" fill="#4c7abd"/>
<circle cx="850.2" cy="1021.2" r="4.9" fill="#15b8d0"/>
<circle cx="842.4" cy="1024.7" r="4.9" fill="#4c7abd"/>
<circle cx="817.5" cy="1011.7" r="4.9" fill="#3c99d3"/>
<circle cx="817.3" cy="1017.3" r="4.9" fill="#3bbca6"/>
<circle cx="826.2" cy="1018.9" r="4.9" fill="#54bd8c"/>
<circle cx="817.5" cy="1025.4" r="4.9" fill="#15b8d0"/>
<circle cx="773.9" cy="1023.9" r="4.9" fill="#4c7abd"/>
<circle cx="829.3" cy="1037.8" r="4.9" fill="#7ac367"/>
<circle cx="852.4" cy="1032.8" r="4.9" fill="#54bd8c"/>
<circle cx="860.7" cy="1035.1" r="4.9" fill="#3c99d3"/>
<circle cx="874.1" cy="1013.4" r="4.9" fill="#54bd8c"/>
<circle cx="869.1" cy="1021.2" r="4.9" fill="#54bd8c"/>
<circle cx="864.1" cy="1027.3" r="4.9" fill="#bfba31"/>
<circle cx="872.4" cy="1027.3" r="4.9" fill="#f5b035"/>
<circle cx="877.4" cy="1030.1" r="4.9" fill="#9cc745"/>
<circle cx="869.6" cy="1032.3" r="4.9" fill="#9cc745"/>
<circle cx="875.2" cy="1040.1" r="4.9" fill="#4abd97"/>
<circle cx="861.8" cy="1040.6" r="4.9" fill="#b5bd33"/>
<circle cx="877.4" cy="1046.8" r="4.9" fill="#2abbb8"/>
<circle cx="871.3" cy="1046.8" r="4.9" fill="#f5b035"/>
<circle cx="893.9" cy="1004.2" r="4.9" fill="#34a0da"/>
<circle cx="884.5" cy="1012.2" r="4.9" fill="#9cc745"/>
<circle cx="891.1" cy="1010.6" r="4.9" fill="#b5bd33"/>
<circle cx="879.5" cy="1018.9" r="4.9" fill="#b5bd33"/>
<circle cx="886.1" cy="1023.9" r="4.9" fill="#4abd97"/>
<circle cx="892.8" cy="1023.6" r="4.9" fill="#9cc745"/>
<circle cx="898.4" cy="1021.7" r="4.9" fill="#d0b52c"/>
<circle cx="906.7" cy="1018.7" r="4.9" fill="#f5b035"/>
<circle cx="903.4" cy="1016.7" r="4.9" fill="#b5bd33"/>
<circle cx="890.6" cy="1031.4" r="4.9" fill="#15b8d0"/>
<circle cx="882.2" cy="1048.4" r="4.9" fill="#9cc745"/>
<circle cx="885.2" cy="1042.5" r="4.9" fill="#15b8d0"/>
<circle cx="895.6" cy="1040.6" r="4.9" fill="#4abd97"/>
<circle cx="909.5" cy="1039.0" r="4.9" fill="#15b8d0"/>
<circle cx="906.7" cy="1043.4" r="4.9" fill="#3bbca6"/>
<circle cx="906.2" cy="1039.5" r="4.9" fill="#b5bd33"/>
<circle cx="898.4" cy="1049.5" r="4.9" fill="#9cc745"/>
<circle cx="890.6" cy="1058.4" r="4.9" fill="#1fbac4"/>
<circle cx="891.7" cy="1054.5" r="4.9" fill="#6dc173"/>
<circle cx="901.5" cy="1055.4" r="4.9" fill="#f8d42b"/>
<circle cx="897.8" cy="1065.7" r="4.9" fill="#4abd97"/>
<circle cx="914.5" cy="1050.6" r="4.9" fill="#2ba8df"/>
<circle cx="920.1" cy="1050.1" r="4.9" fill="#fbbc33"/>
<circle cx="912.8" cy="1057.9" r="4.9" fill="#9cc745"/>
<circle cx="928.2" cy="1061.0" r="4.9" fill="#6dc173"/>
<circle cx="922.3" cy="1057.7" r="4.9" fill="#b5bd33"/>
<circle cx="935.7" cy="1053.4" r="4.9" fill="#d8b42b"/>
<circle cx="938.1" cy="1049.0" r="4.9" fill="#babc32"/>
<circle cx="909.0" cy="1069.0" r="4.9" fill="#a8c33d"/>
<circle cx="914.5" cy="1074.6" r="4.9" fill="#b5bd33"/>
<circle cx="921.8" cy="1065.7" r="4.9" fill="#9cc745"/>
<circle cx="926.8" cy="1069.6" r="4.9" fill="#9cc745"/>
<circle cx="941.8" cy="1069.6" r="4.9" fill="#7ac367"/>
<circle cx="928.4" cy="1077.9" r="4.9" fill="#fbbc33"/>
<circle cx="936.2" cy="1076.8" r="4.9" fill="#fbbc33"/>
<circle cx="942.7" cy="1076.6" r="4.9" fill="#4abd97"/>
<circle cx="931.2" cy="1084.0" r="4.9" fill="#9cc745"/>
<circle cx="924.0" cy="1085.2" r="4.9" fill="#7ac367"/>
<circle cx="955.7" cy="1060.7" r="4.9" fill="#4abd97"/>
<circle cx="966.8" cy="1040.6" r="4.9" fill="#d8b42b"/>
<circle cx="973.5" cy="1058.7" r="4.9" fill="#2abbb8"/>
<circle cx="992.4" cy="1052.9" r="4.9" fill="#5154a8"/>
<circle cx="990.8" cy="1068.5" r="4.9" fill="#9cc745"/>
<circle cx="957.9" cy="1077.9" r="4.9" fill="#f2e92c"/>
<circle cx="970.0" cy="1075.1" r="4.9" fill="#2abbb8"/>
<circle cx="968.5" cy="1081.8" r="4.9" fill="#fbbc33"/>
<circle cx="986.9" cy="1079.9" r="4.9" fill="#bfba31"/>
<circle cx="956.8" cy="1088.5" r="4.9" fill="#d8b42b"/>
<circle cx="951.0" cy="1091.8" r="4.9" fill="#2abbb8"/>
<circle cx="976.1" cy="1089.1" r="4.9" fill="#54bd8c"/>
<circle cx="984.3" cy="1093.5" r="4.9" fill="#9cc745"/>
<circle cx="1004.9" cy="1055.9" r="4.9" fill="#4983c3"/>
<circle cx="1009.9" cy="1072.9" r="4.9" fill="#9cc745"/>
<circle cx="1000.1" cy="1101.8" r="4.9" fill="#7ac367"/>
<circle cx="710.9" cy="1030.9" r="4.9" fill="#4e71b8"/>
<circle cx="756.9" cy="1027.3" r="4.9" fill="#3bbca6"/>
<g fill="#231f20">
<text x="-0.51" y="23.99" font-size="30" font-weight="bold" fill="#000">A</text>
<text x="540.89" y="24.07" font-size="30" font-weight="bold" fill="#000">B</text>
<text x="0.16" y="707.12" font-size="30" font-weight="bold" fill="#000">C</text>
<text x="541.64" y="708.32" font-size="30" font-weight="bold" fill="#000">D</text>
<text x="261.14" y="43.81" font-size="38.2">Shelf</text>
<text x="777.69" y="44.36" font-size="38.2">Offshore</text>
<text x="252.79" y="737.86" font-size="38.2">Shelf</text>
<text x="779.39" y="737.96" font-size="38.2">Offshore</text>
<text x="105.14" y="452.87" font-size="38.0">0</text>
<text x="151.37" y="452.87" font-size="38.0">10</text>
<text x="219.06" y="452.87" font-size="38.0">20</text>
<text x="288.39" y="452.87" font-size="38.0">30</text>
<text x="352.88" y="452.87" font-size="38.0">40</text>
<text x="417.45" y="452.87" font-size="38.0">50</text>
<text x="482.04" y="452.87" font-size="38.0">60</text>
<text x="644.34" y="453.22" font-size="38.0">0</text>
<text x="698.97" y="453.22" font-size="38.0">10</text>
<text x="766.96" y="453.22" font-size="38.0">20</text>
<text x="836.49" y="453.22" font-size="38.0">30</text>
<text x="900.48" y="453.22" font-size="38.0">40</text>
<text x="969.55" y="453.22" font-size="38.0">50</text>
<text x="1029.54" y="453.22" font-size="38.0">60</text>
<text x="100.24" y="1143.82" font-size="38.0">0</text>
<text x="177.15" y="1143.82" font-size="38.0">4</text>
<text x="248.64" y="1143.82" font-size="38.0">8</text>
<text x="327.98" y="1144.01" font-size="38.0">12</text>
<text x="409.66" y="1143.82" font-size="38.0">16</text>
<text x="488.46" y="1143.82" font-size="38.0">20</text>
<text x="646.44" y="1142.22" font-size="38.0">0</text>
<text x="723.37" y="1142.03" font-size="38.0">5</text>
<text x="793.87" y="1142.22" font-size="38.0">10</text>
<text x="871.93" y="1142.03" font-size="38.0">15</text>
<text x="951.66" y="1142.22" font-size="38.0">20</text>
<text x="1030.82" y="1142.22" font-size="38.0">25</text>
<text x="59.34" y="89.58" font-size="38.0">15</text>
<text x="59.23" y="201.67" font-size="38.0">10</text>
<text x="80.47" y="312.88" font-size="38.0">5</text>
<text x="80.35" y="426.07" font-size="38.0">0</text>
<text x="592.68" y="78.46" font-size="38.0">1.2</text>
<text x="592.26" y="135.67" font-size="38.0">1.0</text>
<text x="592.41" y="197.17" font-size="38.0">0.8</text>
<text x="592.45" y="253.17" font-size="38.0">0.6</text>
<text x="591.88" y="312.17" font-size="38.0">0.4</text>
<text x="592.68" y="368.07" font-size="38.0">0.2</text>
<text x="623.95" y="426.37" font-size="38.0">0</text>
<text x="54.04" y="779.58" font-size="38.0">15</text>
<text x="53.93" y="891.67" font-size="38.0">10</text>
<text x="75.17" y="1003.18" font-size="38.0">5</text>
<text x="75.05" y="1116.17" font-size="38.0">0</text>
<text x="590.18" y="772.06" font-size="38.0">1.2</text>
<text x="589.76" y="829.67" font-size="38.0">1.0</text>
<text x="589.91" y="891.17" font-size="38.0">0.8</text>
<text x="589.95" y="947.07" font-size="38.0">0.6</text>
<text x="589.38" y="1005.87" font-size="38.0">0.4</text>
<text x="590.18" y="1061.87" font-size="38.0">0.2</text>
<text x="621.45" y="1120.07" font-size="38.0">0</text>
<text x="236.79" y="616.42" font-size="38.0">0.0</text>
<text x="352.80" y="616.42" font-size="38.0">0.2</text>
<text x="465.40" y="616.42" font-size="38.0">0.4</text>
<text x="586.68" y="616.42" font-size="38.0">0.6</text>
<text x="705.47" y="616.42" font-size="38.0">0.8</text>
<text x="821.69" y="616.42" font-size="38.0">1.0</text>
<text x="130.57" y="491.90" font-size="38.2">PAR (Einsteins m</text>
<text x="427.63" y="478.40" font-size="20.8">-2</text>
<text x="458.20" y="491.90" font-size="38.2">d</text>
<text x="479.15" y="475.50" font-size="17.0">-1</text>
<text transform="translate(497.52,491.90) scale(0.7705225723599733,1)" font-size="38.2">)</text>
<text x="674.57" y="491.60" font-size="38.2">PAR (Einsteins m</text>
<text x="971.63" y="478.10" font-size="20.8">-2</text>
<text x="1002.20" y="491.60" font-size="38.2">d</text>
<text x="1023.15" y="475.20" font-size="17.0">-1</text>
<text transform="translate(1041.52,491.60) scale(0.7705225723599733,1)" font-size="38.2">)</text>
<text x="351.77" y="658.20" font-size="38.2">Mixotroph proportion</text>
<text x="176.66" y="1187.00" font-size="38.2">Temperature (ºC)</text>
<text x="707.46" y="1187.00" font-size="38.2">Temperature (ºC)</text>
<text transform="translate(48.90,394.62) rotate(-90) scale(1.0,1)" font-size="38.2">nitrate (µMol L</text>
<text transform="translate(42.70,149.70) rotate(-90) scale(1.0,1)" font-size="29.5">-</text>
<text transform="translate(42.70,136.37) rotate(-90) scale(0.6,1)" font-size="29.5">1</text>
<text transform="translate(48.90,119.35) rotate(-90) scale(0.72,1)" font-size="38.2">)</text>
<text transform="translate(582.00,429.54) rotate(-90) scale(1.0,1)" font-size="38.2">phosphate (µMol L</text>
<text transform="translate(575.80,112.36) rotate(-90) scale(1.0,1)" font-size="29.5">-</text>
<text transform="translate(575.80,99.04) rotate(-90) scale(0.6,1)" font-size="29.5">1</text>
<text transform="translate(582.00,81.85) rotate(-90) scale(0.72,1)" font-size="38.2">)</text>
<text transform="translate(48.00,1084.42) rotate(-90) scale(1.0,1)" font-size="38.2">nitrate (µMol L</text>
<text transform="translate(41.80,839.50) rotate(-90) scale(1.0,1)" font-size="29.5">-</text>
<text transform="translate(41.80,826.17) rotate(-90) scale(0.6,1)" font-size="29.5">1</text>
<text transform="translate(48.00,809.35) rotate(-90) scale(0.72,1)" font-size="38.2">)</text>
<text transform="translate(579.70,1123.04) rotate(-90) scale(1.0,1)" font-size="38.2">phosphate (µMol L</text>
<text transform="translate(573.50,805.86) rotate(-90) scale(1.0,1)" font-size="29.5">-</text>
<text transform="translate(573.50,792.54) rotate(-90) scale(0.6,1)" font-size="29.5">1</text>
<text transform="translate(579.70,775.75) rotate(-90) scale(0.72,1)" font-size="38.2">)</text>
</g>
</svg></body></html>
